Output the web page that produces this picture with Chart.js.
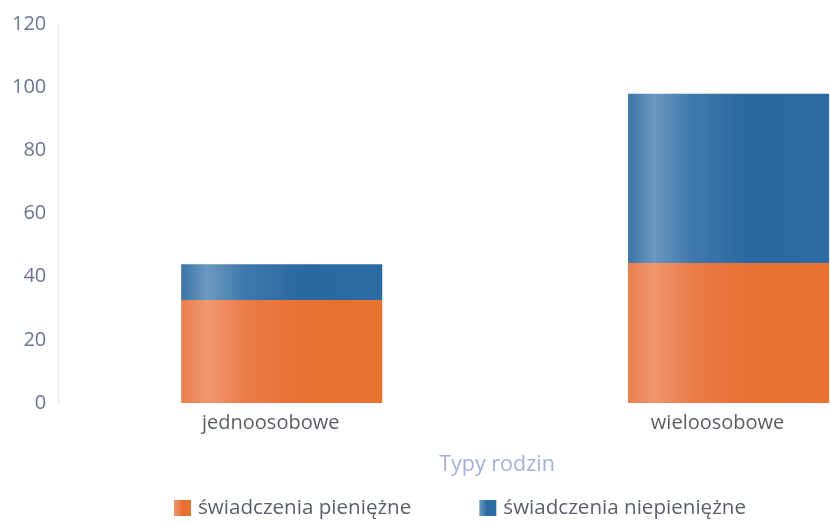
<!DOCTYPE html>
<html>
<head>
<meta charset="utf-8">
<script src="https://cdn.jsdelivr.net/npm/chart.js@4/dist/chart.umd.min.js"></script>
<style>
html,body{margin:0;padding:0;background:#fff;overflow:hidden;}
#wrap{width:830px;height:525px;overflow:hidden;position:relative;}
canvas{display:block;}
</style>
</head>
<body>
<div id="wrap"><canvas id="c" width="952" height="525"></canvas></div>
<script>
const categories = ['jednoosobowe', 'wieloosobowe'];
const seriesNames = ['świadczenia pieniężne', 'świadczenia niepieniężne'];
const pieniezne = [32.6, 44.3];
const niepieniezne = [11.3, 53.6];
const yTicks = [0, 20, 40, 60, 80, 100, 120];
const axisTitle = 'Typy rodzin';

const FONT = 'Open Sans';

function barGradient(stops) {
  return function(ctx) {
    const chart = ctx.chart;
    const xs = chart.scales.x;
    const fallback = stops[stops.length - 1][1];
    if (!xs || ctx.dataIndex === undefined) return fallback;
    const cx = xs.getPixelForValue(ctx.dataIndex);
    const half = (xs.width / categories.length) * 0.45 / 2;
    if (!isFinite(cx) || !isFinite(half) || half <= 0) return fallback;
    const g = chart.ctx.createLinearGradient(cx - half, 0, cx + half, 0);
    stops.forEach(s => g.addColorStop(s[0], s[1]));
    return g;
  };
}
const orangeStops = [[0,'#ea7f4c'],[0.13,'#ee976e'],[0.32,'#eb7c47'],[0.6,'#e87034'],[1,'#e8732f']];
const blueStops = [[0,'#3c74a8'],[0.13,'#6a98c1'],[0.32,'#3f78ab'],[0.6,'#2b68a1'],[1,'#2b6ba3']];

// axis title and bottom legend drawn on the chart canvas
const bottomLegend = {
  id: 'bottomLegend',
  afterDraw(chart) {
    const ctx = chart.ctx;
    ctx.save();
    // axis title
    ctx.font = '21.5px "' + FONT + '"';
    ctx.textBaseline = 'middle';
    ctx.textAlign = 'center';
    ctx.fillStyle = '#a5b0dd';
    ctx.fillText(axisTitle, 497, 465);
    // legend
    ctx.font = '20.6px "' + FONT + '"';
    ctx.textAlign = 'left';
    const box = 17, boxGap = 7, itemGap = 68;
    let x = 174;
    const cy = 508;
    chart.data.datasets.forEach((d, i) => {
      const stops = i === 0 ? orangeStops : blueStops;
      const w = ctx.measureText(d.label).width;
      const g = ctx.createLinearGradient(x, 0, x + box, 0);
      g.addColorStop(0, stops[1][1]);
      g.addColorStop(0.5, stops[3][1]);
      g.addColorStop(1, stops[4][1]);
      ctx.fillStyle = g;
      ctx.fillRect(x, cy - 8, box, 16);
      ctx.fillStyle = '#5a5f6b';
      ctx.fillText(d.label, x + box + boxGap, cy);
      x += box + boxGap + w + itemGap;
    });
    ctx.restore();
  }
};

new Chart(document.getElementById('c'), {
  type: 'bar',
  data: {
    labels: categories,
    datasets: [
      { label: seriesNames[0], data: pieniezne, backgroundColor: barGradient(orangeStops), borderWidth: 0 },
      { label: seriesNames[1], data: niepieniezne, backgroundColor: barGradient(blueStops), borderWidth: 0 }
    ]
  },
  plugins: [bottomLegend],
  options: {
    responsive: false,
    animation: false,
    devicePixelRatio: 1,
    categoryPercentage: 0.5,
    barPercentage: 0.9,
    layout: { padding: { left: 0, right: 0, top: 10, bottom: 82 } },
    plugins: {
      tooltip: { enabled: false },
      legend: { display: false }
    },
    scales: {
      x: {
        stacked: true,
        grid: { display: false, drawTicks: false },
        border: { display: false },
        ticks: { font: { family: FONT, size: 20 }, color: '#595d68', padding: 8, labelOffset: -11 },
        title: { display: false }
      },
      y: {
        stacked: true,
        min: 0, max: 120,
        afterBuildTicks: (s) => { s.ticks = yTicks.map(v => ({ value: v })); },
        grid: { display: false, drawTicks: false },
        border: { display: true, color: '#e6ebf1', width: 1, dash: [2, 3] },
        ticks: { font: { family: FONT, size: 20 }, color: '#6a7590', padding: 12 }
      }
    }
  }
});
</script>
</body>
</html>
